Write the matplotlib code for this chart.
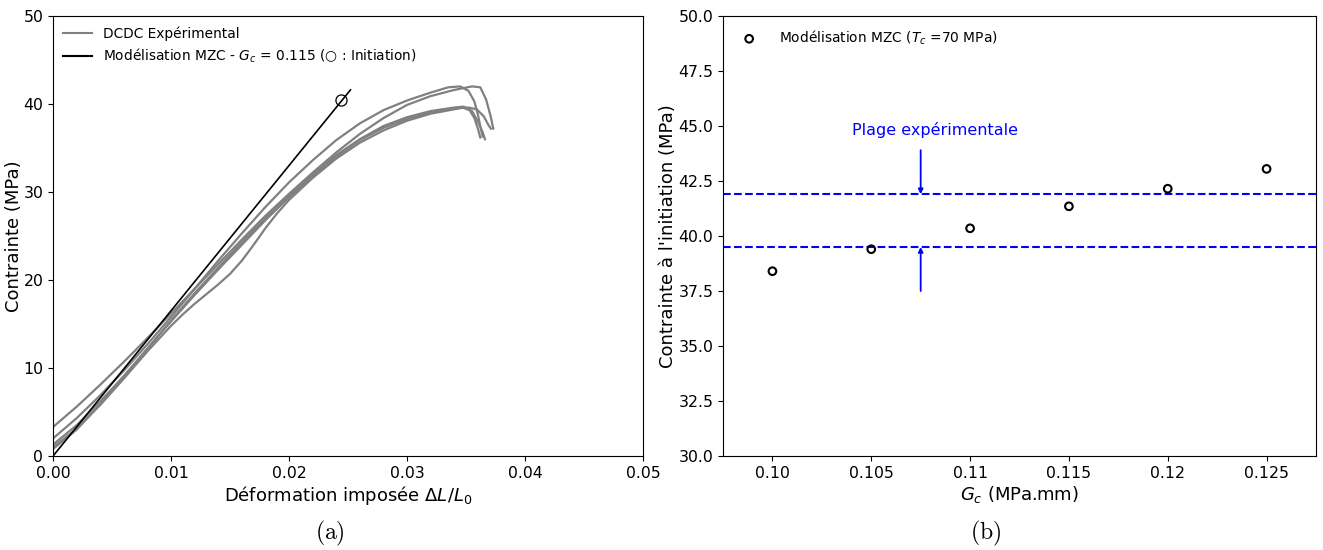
import matplotlib
matplotlib.use('Agg')
import matplotlib.pyplot as plt
from matplotlib.lines import Line2D

# --- data (a): experimental DCDC curves (strain, stress in MPa) ---
expA_x = [0, 0.002, 0.004, 0.006, 0.008, 0.010, 0.012, 0.014, 0.016, 0.018, 0.020, 0.022,
          0.024, 0.026, 0.028, 0.030, 0.032, 0.034, 0.0355, 0.0362, 0.0367, 0.0371, 0.0373]
expA_y = [3.3, 5.6, 8.1, 10.7, 13.4, 16.2, 19.0, 21.8, 24.6, 27.3, 29.8, 32.2,
          34.5, 36.6, 38.4, 39.9, 40.9, 41.6, 42.0, 41.9, 40.5, 38.5, 37.2]

expB_x = [0, 0.002, 0.004, 0.006, 0.008, 0.010, 0.012, 0.014, 0.016, 0.018, 0.020, 0.022,
          0.024, 0.026, 0.028, 0.030, 0.032, 0.0335, 0.0345, 0.0352, 0.0357, 0.0360, 0.0362, 0.0364]
expB_y = [2.0, 4.3, 6.9, 9.7, 12.7, 15.8, 19.0, 22.2, 25.3, 28.3, 31.1, 33.6,
          35.9, 37.8, 39.3, 40.4, 41.3, 41.9, 42.0, 41.5, 40.3, 38.8, 37.5, 36.3]

expC_x = [0, 0.002, 0.004, 0.006, 0.008, 0.010, 0.012, 0.014, 0.016, 0.018, 0.020, 0.022,
          0.024, 0.026, 0.028, 0.030, 0.032, 0.034, 0.0352, 0.0359, 0.0365, 0.0369, 0.0371]
expC_y = [1.3, 3.5, 6.2, 9.1, 12.2, 15.3, 18.3, 21.2, 24.0, 26.8, 29.4, 31.8,
          34.0, 35.9, 37.3, 38.3, 39.0, 39.5, 39.6, 39.4, 38.6, 37.6, 37.2]

expD_x = [0, 0.002, 0.004, 0.006, 0.008, 0.010, 0.011, 0.012, 0.013, 0.014, 0.015, 0.016,
          0.017, 0.018, 0.019, 0.020, 0.022, 0.024, 0.026, 0.028, 0.030, 0.032, 0.034,
          0.0347, 0.0353, 0.0357, 0.0360, 0.0362]
expD_y = [1.0, 3.1, 5.8, 8.8, 11.9, 14.8, 16.1, 17.3, 18.4, 19.5, 20.7, 22.2,
          24.0, 25.9, 27.6, 29.1, 31.6, 33.8, 35.6, 37.0, 38.1, 38.9, 39.4,
          39.6, 39.3, 38.4, 37.2, 36.2]

expE_x = [0, 0.002, 0.004, 0.006, 0.008, 0.010, 0.012, 0.014, 0.016, 0.018, 0.020, 0.022,
          0.024, 0.026, 0.028, 0.030, 0.032, 0.034, 0.0348, 0.0355, 0.0360, 0.0364, 0.0366]
expE_y = [0.8, 3.0, 5.9, 9.0, 12.2, 15.4, 18.5, 21.4, 24.3, 27.0, 29.6, 32.0,
          34.2, 36.0, 37.5, 38.5, 39.2, 39.6, 39.7, 39.2, 38.0, 36.8, 36.0]

mzc_x = [0.0, 0.0252]
mzc_y = [0.0, 41.6]
init_x = [0.0244]
init_y = [40.4]

# --- data (b): stress at initiation vs Gc ---
gc = [0.100, 0.105, 0.110, 0.115, 0.120, 0.125]
gc_labels = ['0.10', '0.105', '0.11', '0.115', '0.12', '0.125']
sigma_init = [38.4, 39.4, 40.35, 41.35, 42.15, 43.05]
exp_low, exp_high = 39.5, 41.9

fig = plt.figure(figsize=(13.23, 5.5), dpi=100)
ax1 = fig.add_axes([0.0401, 0.1709, 0.446, 0.8])
ax2 = fig.add_axes([0.5465, 0.1709, 0.4482, 0.8])

gray = '#808080'
for xs, ys in [(expA_x, expA_y), (expB_x, expB_y), (expC_x, expC_y),
               (expD_x, expD_y), (expE_x, expE_y)]:
    ax1.plot(xs, ys, color=gray, lw=1.6)
ax1.plot(mzc_x, mzc_y, color='black', lw=1.2)
ax1.plot(init_x, init_y, 'o', mfc='none', mec='black', ms=8, mew=0.9)

ax1.set_xlim(0, 0.05)
ax1.set_ylim(0, 50)
ax1.set_xticks([0, 0.01, 0.02, 0.03, 0.04, 0.05])
ax1.set_xticklabels(['0.00', '0.01', '0.02', '0.03', '0.04', '0.05'])
ax1.set_yticks([0, 10, 20, 30, 40, 50])
ax1.tick_params(labelsize=11.3)
ax1.set_xlabel(r'Déformation imposée $\Delta L/L_0$', fontsize=13, labelpad=2)
ax1.set_ylabel('Contrainte (MPa)', fontsize=13, labelpad=0)
handles = [Line2D([], [], color=gray, lw=1.5), Line2D([], [], color='black', lw=1.5)]
ax1.legend(handles, ['DCDC Expérimental',
                     r'Modélisation MZC - $G_c$ = 0.115 (○ : Initiation)'],
           loc='upper left', frameon=False, fontsize=9.9, handlelength=2.1,
           borderaxespad=0.35, labelspacing=0.45)

ax2.scatter(gc, sigma_init, s=30, facecolors='none', edgecolors='black', linewidths=1.5,
            label=r'Modélisation MZC ($T_c$ =70 MPa)', zorder=3)
ax2.axhline(exp_high, color='blue', ls='--', lw=1.5)
ax2.axhline(exp_low, color='blue', ls='--', lw=1.5)
arrow = dict(arrowstyle='-|>', color='blue', lw=1.3, mutation_scale=7, shrinkA=0, shrinkB=0)
ax2.annotate('', xy=(0.1075, exp_high), xytext=(0.1075, 43.9), arrowprops=arrow)
ax2.annotate('', xy=(0.1075, exp_low), xytext=(0.1075, 37.5), arrowprops=arrow)
ax2.text(0.1082, 44.8, 'Plage expérimentale', color='blue', fontsize=11.5,
         ha='center', va='center')

ax2.set_xlim(0.0975, 0.1275)
ax2.set_ylim(30, 50)
ax2.set_xticks(gc)
ax2.set_xticklabels(gc_labels)
ax2.set_yticks([30 + 2.5 * i for i in range(9)])
ax2.set_yticklabels(['%.1f' % (30 + 2.5 * i) for i in range(9)])
ax2.tick_params(labelsize=11.3)
ax2.set_xlabel(r'$G_c$ (MPa.mm)', fontsize=13, labelpad=2)
ax2.set_ylabel("Contrainte à l'initiation (MPa)", fontsize=13, labelpad=1)
ax2.legend(loc='upper left', frameon=False, fontsize=9.9, handletextpad=1.2,
           borderaxespad=0.5)

fig.text(0.249, 0.03, r'$\mathrm{(a)}$', math_fontfamily='cm', fontsize=17,
         ha='center', va='center')
fig.text(0.745, 0.03, r'$\mathrm{(b)}$', math_fontfamily='cm', fontsize=17,
         ha='center', va='center')

fig.savefig('out.png', dpi=100)
